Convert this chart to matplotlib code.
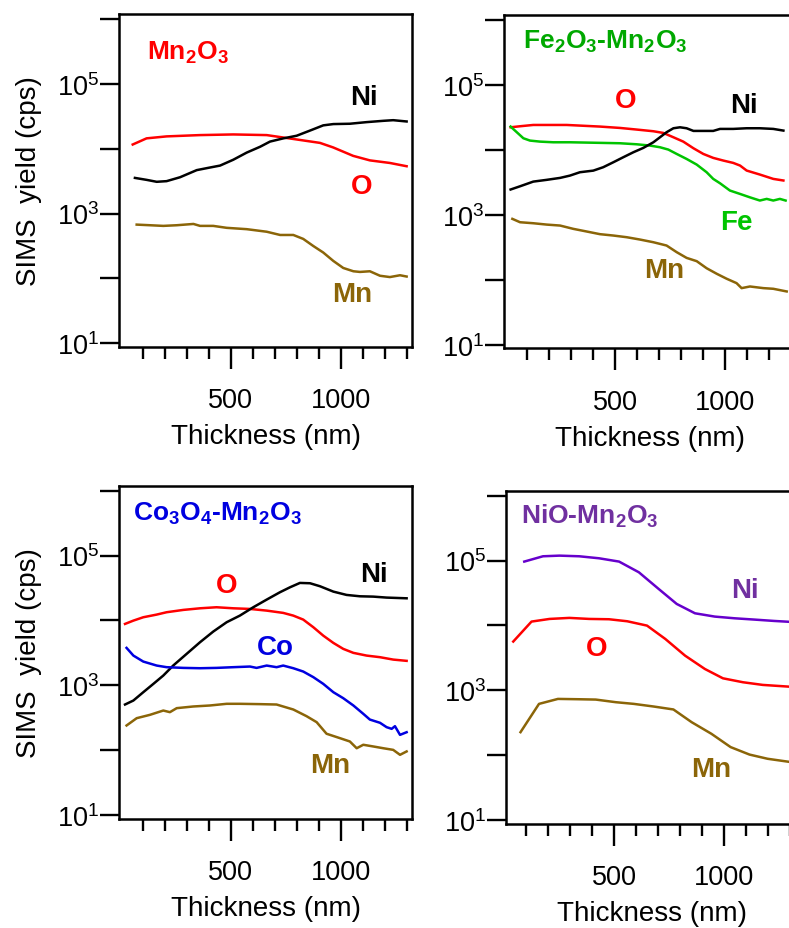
import matplotlib
matplotlib.use('Agg')
import matplotlib.pyplot as plt
from matplotlib.ticker import FixedLocator, FuncFormatter, NullLocator
import numpy as np

plt.rcParams['font.family'] = ['Liberation Sans', 'DejaVu Sans']

# ---------------- data (thickness in nm, SIMS yield in cps) ----------------
# Panel 1: Mn2O3
mn2o3_o_x = [55, 118, 209, 360, 512, 664, 785, 906, 966, 1057, 1133, 1224, 1300]
mn2o3_o_y = [11610, 14450, 15490, 16220, 16600, 16220, 14130, 12300, 10470, 7760, 6610, 6030, 5370]
mn2o3_ni_x = [65, 118, 164, 209, 270, 346, 406, 452, 512, 573, 634, 679, 740, 800, 861, 921, 967,
              1042, 1118, 1194, 1239, 1300]
mn2o3_ni_y = [3548, 3311, 3090, 3162, 3631, 4677, 5129, 5495, 6761, 8710, 10720, 12880, 14450,
              15850, 19050, 22910, 23990, 24270, 25700, 26920, 27540, 26300]
mn2o3_mn_x = [73, 134, 194, 255, 331, 361, 421, 482, 573, 664, 725, 785, 830, 876, 921, 967, 1012,
              1058, 1088, 1133, 1179, 1224, 1270, 1300]
mn2o3_mn_y = [676, 661, 646, 661, 692, 646, 646, 603, 575, 525, 468, 468, 407, 316, 251, 186, 145,
              129, 126, 129, 110, 105, 112, 107]

# Panel 2: Fe2O3-Mn2O3
fe_o_x = [24, 67, 127, 218, 279, 339, 430, 521, 597, 673, 718, 764, 809, 855, 900, 945, 991, 1036,
          1067, 1097, 1157, 1218, 1264]
fe_o_y = [22490, 23330, 24430, 24430, 24430, 23880, 23070, 21980, 20750, 19540, 18410, 15780, 13520,
          10690, 8730, 7590, 6900, 6350, 5780, 4840, 4200, 3600, 3400]
fe_fe_x = [24, 52, 82, 112, 158, 218, 294, 370, 445, 521, 597, 658, 703, 741, 779, 824, 870, 915,
           945, 976, 1021, 1067, 1112, 1157, 1188, 1218, 1248, 1274]
fe_fe_y = [23070, 18880, 15240, 14030, 13520, 13210, 13210, 13060, 12910, 12760, 12300, 11750, 11070,
           10190, 8730, 7310, 5980, 4560, 3600, 3080, 2380, 2110, 1870, 1670, 1770, 1670, 1770, 1670]
fe_ni_x = [24, 67, 127, 188, 249, 294, 339, 400, 445, 491, 536, 582, 627, 673, 703, 733, 764, 794,
           824, 855, 900, 945, 976, 1036, 1097, 1157, 1218, 1264]
fe_ni_y = [2470, 2770, 3270, 3480, 3730, 4050, 4560, 4830, 5450, 6500, 7760, 9270, 10810, 13210,
           15780, 18880, 21730, 22490, 21730, 19770, 19770, 19770, 21230, 21230, 21730, 21730, 21230, 20000]
fe_mn_x = [32, 67, 127, 188, 249, 309, 370, 430, 491, 552, 612, 673, 733, 779, 824, 870, 915, 961,
           1006, 1051, 1074, 1112, 1173, 1218, 1279]
fe_mn_y = [871, 773, 746, 711, 687, 611, 556, 506, 482, 454, 418, 380, 338, 267, 218, 194, 151, 124,
           104, 89, 74.5, 79, 74.5, 72.8, 66.2]

# Panel 3: Co3O4-Mn2O3
co_o_x = [20, 58, 103, 164, 209, 285, 361, 436, 512, 588, 664, 739, 785, 830, 876, 921, 967, 1012,
          1058, 1118, 1179, 1239, 1300]
co_o_y = [8830, 9930, 11190, 12300, 13370, 14520, 15380, 15960, 15380, 15030, 14160, 13060, 11860,
          10300, 7850, 5830, 4500, 3640, 3160, 2870, 2710, 2490, 2380]
co_ni_x = [20, 58, 103, 149, 194, 239, 300, 361, 421, 482, 542, 603, 664, 724, 770, 815, 861, 906,
           967, 1027, 1088, 1148, 1209, 1300]
co_ni_y = [505, 582, 782, 1052, 1413, 2014, 3048, 4613, 6730, 9380, 11860, 15960, 20940, 27160,
           32430, 37840, 37410, 33650, 27800, 24720, 23550, 23280, 22490, 21930]
co_co_x = [27, 58, 103, 164, 209, 285, 361, 436, 512, 588, 618, 664, 709, 739, 785, 830, 876, 921,
           967, 1012, 1058, 1103, 1133, 1179, 1209, 1232, 1247, 1270, 1300]
co_co_y = [3770, 2870, 2320, 2014, 1901, 1854, 1832, 1854, 1901, 1945, 1854, 2014, 1901, 2014, 1832,
           1629, 1334, 1052, 782, 632, 488, 363, 296, 264, 226, 213, 234, 172, 189]
co_mn_x = [27, 73, 133, 194, 224, 255, 330, 406, 482, 542, 633, 709, 785, 845, 891, 936, 997, 1042,
           1073, 1103, 1148, 1194, 1239, 1270, 1300]
co_mn_y = [240, 311, 350, 408, 385, 444, 471, 488, 518, 518, 512, 505, 423, 334, 270, 179, 153, 136,
           107, 121, 114, 107, 101, 84.7, 95.5]

# Panel 4: NiO-Mn2O3
nio_ni_x = [92, 177, 252, 342, 432, 523, 613, 703, 785, 868, 958, 1048, 1138, 1228, 1300]
nio_ni_y = [96390, 116400, 119100, 116400, 108400, 96390, 65920, 36480, 21430, 15380, 13680, 12880,
            12300, 11720, 11350]
nio_o_x = [42, 125, 207, 297, 387, 477, 560, 650, 733, 823, 913, 995, 1086, 1176, 1300]
nio_o_y = [5640, 11460, 12590, 13060, 12590, 12450, 11590, 9930, 6190, 3420, 2130, 1530, 1330,
           1210, 1135]
nio_mn_x = [75, 159, 245, 335, 417, 508, 590, 680, 770, 853, 943, 1030, 1116, 1198, 1300]
nio_mn_y = [226, 617, 736, 728, 719, 655, 617, 562, 506, 322, 213, 133, 102, 87.9, 78.5]

# ticks
x_major = [500, 1000]
x_minor = [100, 200, 300, 400, 600, 700, 800, 900, 1100, 1200, 1300]
y_ticks = [1e1, 1e2, 1e3, 1e4, 1e5, 1e6]
y_labeled_exponents = [1, 3, 5]

# colours
RED = '#FF0000'
BLACK = '#000000'
BROWN = '#8B6508'
GREEN = '#00C400'
GREEN_T = '#00A800'
BLUE = '#0000E0'
PURPLE = '#6600CC'
PURPLE_T = '#7030A0'

# ---------------- figure ----------------
W, H = 789, 929
fig = plt.figure(figsize=(W / 100, H / 100), dpi=100)
AX_W, AX_H = 292.6, 333.0
YLIM = (10 ** 0.943, 10 ** 6.077)


def make_axes(left, bottom, xlim, ylabel):
    ax = fig.add_axes([left / W, 1 - bottom / H, AX_W / W, AX_H / H])
    ax.set_yscale('log')
    ax.set_xlim(*xlim)
    ax.set_ylim(*YLIM)
    ax.yaxis.set_major_locator(FixedLocator(y_ticks))
    ax.yaxis.set_minor_locator(NullLocator())

    def yfmt(v, p):
        e = int(round(np.log10(v)))
        return r'$\mathregular{10^{%d}}$' % e if e in y_labeled_exponents else ''
    ax.yaxis.set_major_formatter(FuncFormatter(yfmt))
    ax.xaxis.set_major_locator(FixedLocator(x_major))
    ax.xaxis.set_minor_locator(FixedLocator(x_minor))
    ax.xaxis.set_major_formatter(FuncFormatter(lambda v, p: '%d' % v))
    ax.tick_params(axis='y', which='major', direction='out', length=13.7, width=1.7,
                   pad=0.5, labelsize=19.5)
    ax.tick_params(axis='x', which='major', direction='out', length=16, width=1.7,
                   pad=13, labelsize=19.5)
    ax.tick_params(axis='x', which='minor', direction='out', length=8.6, width=1.7)
    for s in ax.spines.values():
        s.set_linewidth(1.8)
    ax.set_xlabel('Thickness (nm)', fontsize=20)
    ax.xaxis.set_label_coords(0.5, -0.229)
    if ylabel:
        ax.set_ylabel('SIMS  yield (cps)', fontsize=20)
        ax.yaxis.set_label_coords(-0.264, 0.5)
    return ax


LW = 1.8
LBL = dict(fontsize=20, fontweight='bold', ha='center', va='baseline')
TTL = dict(fontsize=19, fontweight='bold', ha='left', va='baseline')
SUB = lambda s: r'$_\mathregular{%s}$' % s

# Panel 1
ax1 = make_axes(119.3, 348, (-6, 1324), True)
ax1.plot(mn2o3_o_x, mn2o3_o_y, color=RED, lw=LW)
ax1.plot(mn2o3_ni_x, mn2o3_ni_y, color=BLACK, lw=LW)
ax1.plot(mn2o3_mn_x, mn2o3_mn_y, color=BROWN, lw=LW)
ax1.text(120, 2.42e5, 'Mn' + SUB('2') + 'O' + SUB('3'), color=RED, **TTL)
ax1.text(1105, 4.9e4, 'Ni', color=BLACK, **LBL)
ax1.text(1094, 2.08e3, 'O', color=RED, **LBL)
ax1.text(1054, 45.6, 'Mn', color=BROWN, **LBL)

# Panel 2
ax2 = make_axes(504, 349.4, (-6, 1324), False)
ax2.plot(fe_o_x, fe_o_y, color=RED, lw=LW)
ax2.plot(fe_fe_x, fe_fe_y, color=GREEN, lw=LW)
ax2.plot(fe_ni_x, fe_ni_y, color=BLACK, lw=LW)
ax2.plot(fe_mn_x, fe_mn_y, color=BROWN, lw=LW)
ax2.text(80, 3.76e5, 'Fe' + SUB('2') + 'O' + SUB('3') + '-Mn' + SUB('2') + 'O' + SUB('3'),
         color=GREEN_T, **TTL)
ax2.text(548, 4.63e4, 'O', color=RED, **LBL)
ax2.text(1084, 3.84e4, 'Ni', color=BLACK, **LBL)
ax2.text(1050, 611, 'Fe', color=GREEN, **LBL)
ax2.text(722, 110, 'Mn', color=BROWN, **LBL)

# Panel 3
ax3 = make_axes(119.3, 819.7, (-6, 1324), True)
ax3.plot(co_o_x, co_o_y, color=RED, lw=LW)
ax3.plot(co_ni_x, co_ni_y, color=BLACK, lw=LW)
ax3.plot(co_co_x, co_co_y, color=BLUE, lw=LW)
ax3.plot(co_mn_x, co_mn_y, color=BROWN, lw=LW)
ax3.text(55, 3.57e5, 'Co' + SUB('3') + 'O' + SUB('4') + '-Mn' + SUB('2') + 'O' + SUB('3'),
         color=BLUE, **TTL)
ax3.text(1151, 4.1e4, 'Ni', color=BLACK, **LBL)
ax3.text(482, 2.75e4, 'O', color=RED, **LBL)
ax3.text(704, 3.05e3, 'Co', color=BLUE, **LBL)
ax3.text(952, 46.8, 'Mn', color=BROWN, **LBL)

# Panel 4
ax4 = make_axes(506, 824.7, (9, 1339), False)
ax4.plot(nio_ni_x, nio_ni_y, color=PURPLE, lw=LW)
ax4.plot(nio_o_x, nio_o_y, color=RED, lw=LW)
ax4.plot(nio_mn_x, nio_mn_y, color=BROWN, lw=LW)
ax4.text(77, 3.8e5, 'NiO-Mn' + SUB('2') + 'O' + SUB('3'), color=PURPLE_T, **TTL)
ax4.text(1093, 2.78e4, 'Ni', color=PURPLE_T, **LBL)
ax4.text(423, 3.5e3, 'O', color=RED, **LBL)
ax4.text(940, 47.4, 'Mn', color=BROWN, **LBL)

fig.savefig('out.png', dpi=100)
